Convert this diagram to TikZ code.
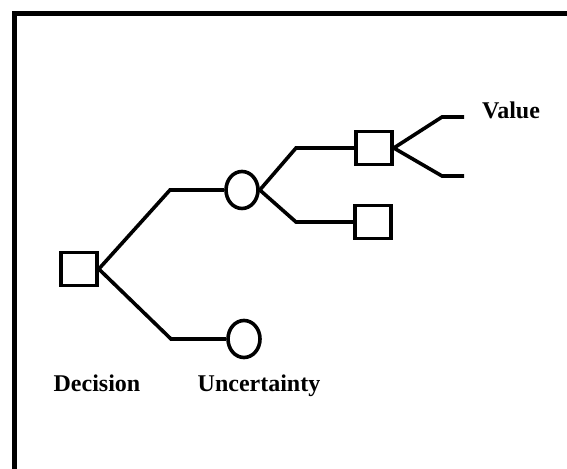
\documentclass[tikz,border=0pt]{standalone}
\usepackage{fontspec}
\setmainfont{Liberation Serif}
\usepackage{tikz}
\usetikzlibrary{shapes.geometric}
\usetikzlibrary{positioning}
\usetikzlibrary{calc}
\tikzset{every picture/.style={line width=1.8pt},box/.style={draw,rectangle,minimum width=18pt,minimum height=16.5pt,inner sep=0pt},chance/.style={draw,ellipse,minimum width=16pt,minimum height=18.5pt,inner sep=0pt},lbl/.style={anchor=base,font=\fontsize{12}{14}\selectfont\bfseries}}
\begin{document}
\begin{tikzpicture}[x=0.5pt,y=-0.5pt]
\useasboundingbox (0,0) rectangle (567,469);
\draw[line width=2.5pt] (14.5,469) -- (14.5,13.7) -- (567,13.7);

\node (d) at (79,269) [box] {};
\node (u1) at (242,190) [chance] {};
\node (u2) at (244,339) [chance] {};
\node (v1) at (374,148) [box] {};
\node (v2) at (373,222) [box] {};

\coordinate (k1) at (170,190);
\coordinate (k2) at (171,339);
\coordinate (k3) at (296,148);
\coordinate (k4) at (296,222);
\coordinate (k5) at (442,117);
\coordinate (k6) at (442,176);
\coordinate (e5) at (464,117);
\coordinate (e6) at (464,176);

\draw (d.east) -- (k1) -- (u1.west);
\draw (d.east) -- (k2) -- (u2.west);
\draw (u1.east) -- (k3) -- (v1.west);
\draw (u1.east) -- (k4) -- (v2.west);
\draw (v1.east) -- (k5) -- (e5);
\draw (v1.east) -- (k6) -- (e6);

\node (dl) at (97,392) [lbl] {Decision};
\node (ul) at (259,392) [lbl] {Uncertainty};
\node (vl) at (511,119) [lbl] {Value};

\end{tikzpicture}
\end{document}
